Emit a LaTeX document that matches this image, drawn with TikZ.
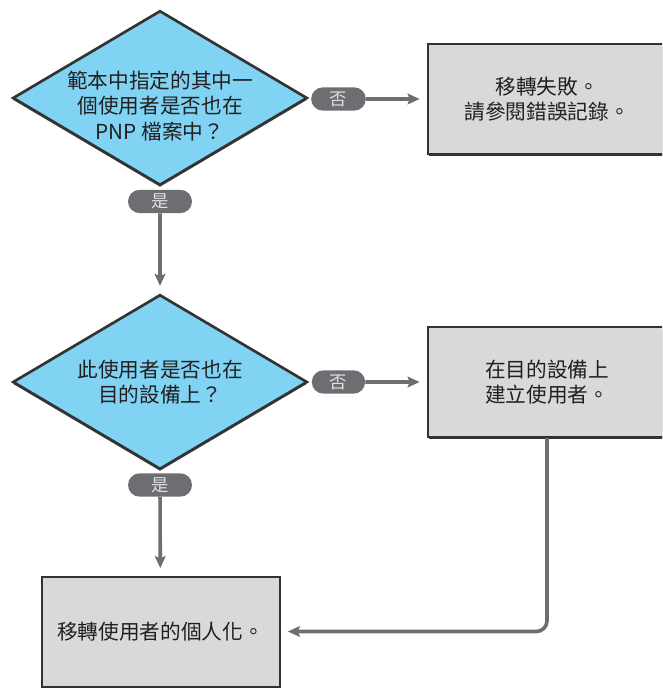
\documentclass[tikz,border=0pt]{standalone}
\usepackage{fontspec}
\setmainfont{Noto Sans CJK TC}
\usetikzlibrary{shapes.geometric,shapes.misc,arrows.meta,shadows}

\definecolor{skyfill}{RGB}{128,211,242}
\definecolor{boxfill}{RGB}{217,217,217}
\definecolor{edgedark}{RGB}{51,51,51}
\definecolor{pillgray}{RGB}{109,110,113}
\definecolor{inkblack}{RGB}{35,31,32}

\tikzset{
  decision/.style={diamond, draw=edgedark, fill=skyfill, line width=2pt,
    minimum width=221pt, minimum height=131pt, inner sep=0pt,
    drop shadow={shadow xshift=0pt, shadow yshift=-1.5pt, fill=pillgray, opacity=1}},
  stepbox/.style={rectangle, draw=edgedark, fill=boxfill, line width=1.5pt,
    minimum width=178.5pt, minimum height=82.5pt, inner sep=0pt,
    text=inkblack, align=center, font=\fontsize{15.5}{18.5}\selectfont,
    drop shadow={shadow xshift=1pt, shadow yshift=-1.5pt, fill=edgedark, opacity=1}},
  qtext/.style={inner sep=0pt, text=inkblack, align=center, font=\fontsize{15.5}{19}\selectfont},
  pill/.style={rounded rectangle, fill=pillgray, text=white!88!black, inner sep=0pt,
    minimum height=17.5pt, font=\fontsize{13}{14}\selectfont},
  flow/.style={draw=pillgray, line width=2.7pt,
    -{Stealth[length=9pt,width=8pt,inset=1.5pt]}, shorten >=5.5pt}
}

\begin{document}
\begin{tikzpicture}[x=0.75pt,y=0.75pt,yscale=-1,xscale=1]

\useasboundingbox (0,0) rectangle (662,688);
\clip (0,0) rectangle (662,688);

% questions
\node[decision] (q1) at (160,98) {};
\node[qtext] (q1text) at (160,106) {範本中指定的其中一\\個使用者是否也在\\PNP 檔案中？};

\node[decision] (q2) at (160,382) {};
\node[qtext] (q2text) at (160,382) {此使用者是否也在\\目的設備上？};

% results
\node[stepbox] (fail) at (547,99) {移轉失敗。\\請參閱錯誤記錄。};
\node[stepbox] (create) at (547,382) {在目的設備上\\建立使用者。};
\node[stepbox] (migrate) at (160.5,631.5) {移轉使用者的個人化。};

% answers
\node[pill, minimum width=41pt] (no1) at (338.5,99) {否};
\node[pill, minimum width=48pt] (yes1) at (160,201.5) {是};
\node[pill, minimum width=40pt] (no2) at (338.5,382) {否};
\node[pill, minimum width=48pt] (yes2) at (160,485) {是};

% connectors
\draw[flow] (no1) -- (fail);
\draw[flow] (yes1) -- (q2);
\draw[flow] (no2) -- (create);
\draw[flow] (yes2) -- (migrate);
\draw[flow, rounded corners=8pt] (create.south) |- (migrate.east);

\end{tikzpicture}
\end{document}
